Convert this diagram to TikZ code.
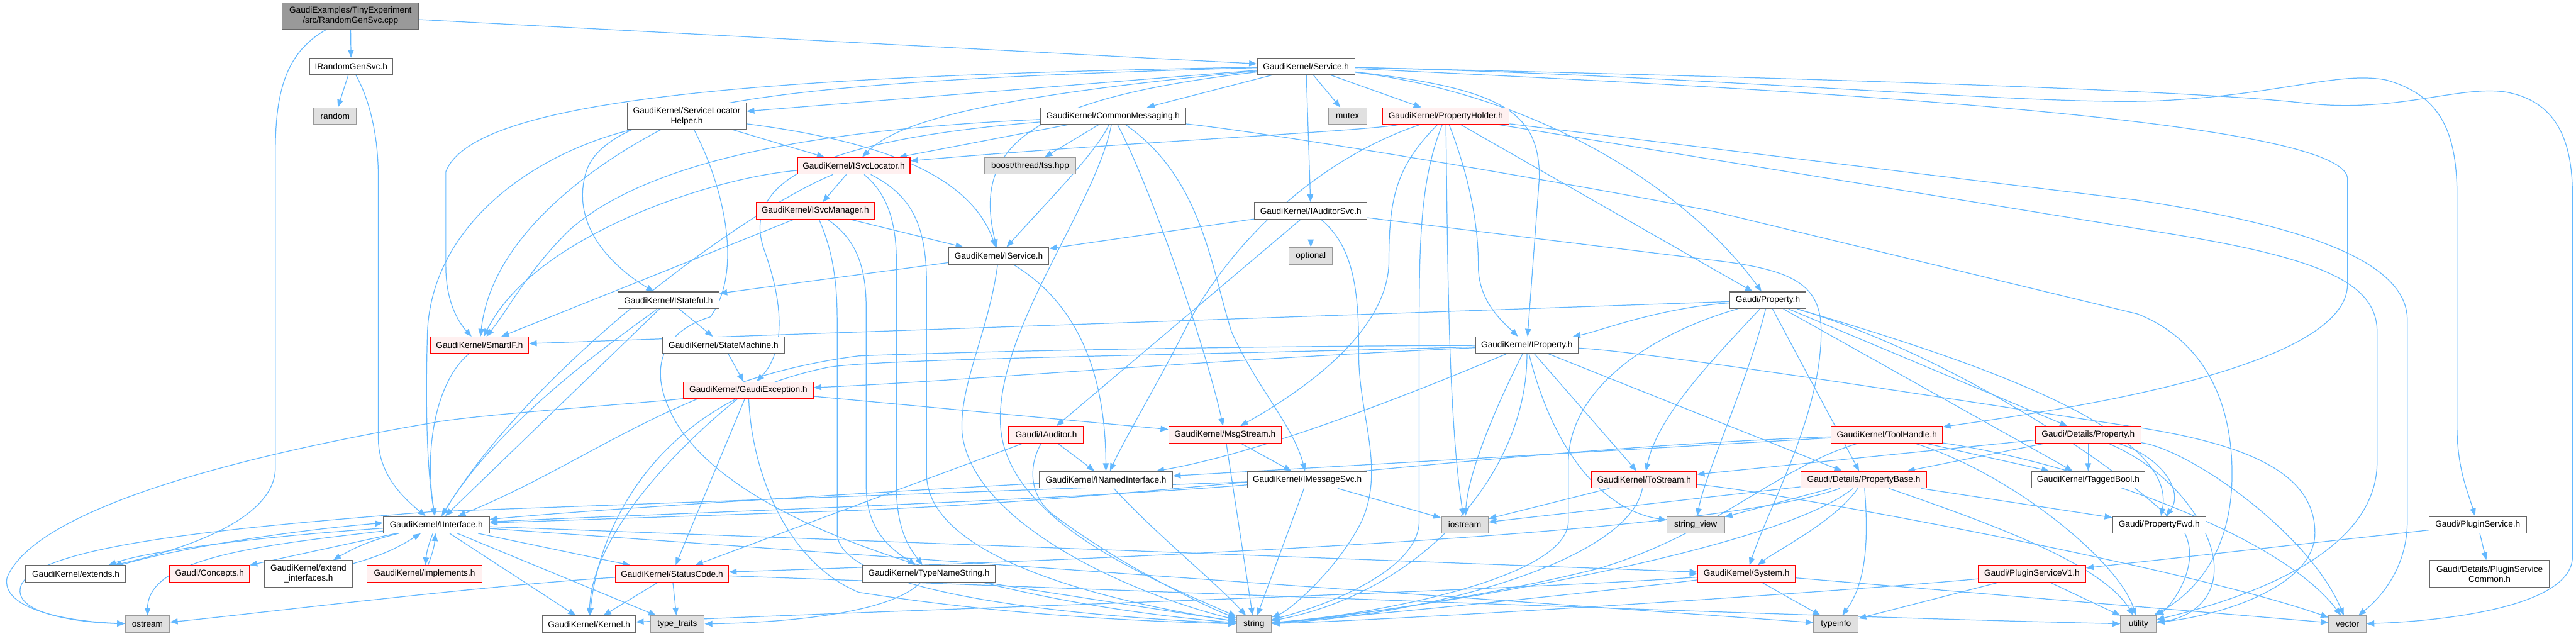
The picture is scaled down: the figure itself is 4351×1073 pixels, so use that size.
\documentclass[tikz,border=0pt]{standalone}
\usepackage{fontspec}
\setmainfont{Liberation Sans}
\usetikzlibrary{arrows.meta,backgrounds}
\definecolor{eblue}{HTML}{63B8FF}
\definecolor{nborder}{HTML}{666666}
\definecolor{rfill}{HTML}{FFF0F0}
\definecolor{sfill}{HTML}{E0E0E0}
\definecolor{sborder}{HTML}{999999}
\definecolor{rootfill}{HTML}{999999}
\tikzset{
 box/.style={rectangle, minimum height=28pt, inner sep=0pt, line width=1.4pt, font=\fontsize{14.5}{17}\selectfont, align=center},
 wbox/.style={box, fill=white, draw=nborder},
 rbox/.style={box, fill=rfill, draw=red},
 gbox/.style={box, fill=sfill, draw=sborder},
 rootbox/.style={box, fill=rootfill, draw=nborder},
 e/.style={draw=eblue, line width=1.3pt, -{Triangle[length=13pt,width=10pt]}},
}
\begin{document}
\begin{tikzpicture}[x=1pt,y=-1pt]
\useasboundingbox (0,0) rectangle (4351,1073);
% nodes
\node[rootbox, minimum width=231pt, minimum height=45pt] (root) at (592,27) {GaudiExamples/TinyExperiment\\/src/RandomGenSvc.cpp};
\node[wbox, minimum width=141pt] (irand) at (593,112) {IRandomGenSvc.h};
\node[gbox, minimum width=72pt] (random) at (566,196) {random};
\node[wbox, minimum width=165pt] (service) at (2206,112) {GaudiKernel/Service.h};
\node[wbox, minimum width=201pt, minimum height=45pt] (slh) at (1160,196) {GaudiKernel/ServiceLocator\\Helper.h};
\node[wbox, minimum width=245pt] (commsg) at (1880,196) {GaudiKernel/CommonMessaging.h};
\node[gbox, minimum width=65pt] (mutex) at (2276,196) {mutex};
\node[rbox, minimum width=214pt] (propholder) at (2442,196) {GaudiKernel/PropertyHolder.h};
\node[rbox, minimum width=190pt] (isvcloc) at (1442,280) {GaudiKernel/ISvcLocator.h};
\node[gbox, minimum width=154pt] (boost) at (1740,280) {boost/thread/tss.hpp};
\node[rbox, minimum width=199pt] (ismgr) at (1377,356) {GaudiKernel/ISvcManager.h};
\node[wbox, minimum width=190pt] (iauditorsvc) at (2214,356) {GaudiKernel/IAuditorSvc.h};
\node[wbox, minimum width=169pt] (iservice) at (1687,432) {GaudiKernel/IService.h};
\node[gbox, minimum width=74pt] (optional) at (2214,432) {optional};
\node[wbox, minimum width=171pt] (istateful) at (1129,507) {GaudiKernel/IStateful.h};
\node[wbox, minimum width=128pt] (property) at (2986,507) {Gaudi/Property.h};
\node[rbox, minimum width=166pt] (smartif) at (810,583) {GaudiKernel/SmartIF.h};
\node[wbox, minimum width=206pt] (statemachine) at (1222,583) {GaudiKernel/StateMachine.h};
\node[wbox, minimum width=174pt] (iproperty) at (2579,583) {GaudiKernel/IProperty.h};
\node[rbox, minimum width=219pt] (gexc) at (1264,659) {GaudiKernel/GaudiException.h};
\node[rbox, minimum width=126pt] (iauditor) at (1767,734) {Gaudi/IAuditor.h};
\node[rbox, minimum width=190pt] (msgstream) at (2069,734) {GaudiKernel/MsgStream.h};
\node[rbox, minimum width=188pt] (toolhandle) at (3187,734) {GaudiKernel/ToolHandle.h};
\node[rbox, minimum width=179pt] (detprop) at (3527,734) {Gaudi/Details/Property.h};
\node[wbox, minimum width=225pt] (inamed) at (1868,810) {GaudiKernel/INamedInterface.h};
\node[wbox, minimum width=201pt] (imsgsvc) at (2208,810) {GaudiKernel/IMessageSvc.h};
\node[rbox, minimum width=177pt] (tostream) at (2777,810) {GaudiKernel/ToStream.h};
\node[rbox, minimum width=213pt] (propbase) at (3148,810) {Gaudi/Details/PropertyBase.h};
\node[wbox, minimum width=191pt] (taggedbool) at (3527,810) {GaudiKernel/TaggedBool.h};
\node[wbox, minimum width=179pt] (iinterface) at (737,886) {GaudiKernel/IInterface.h};
\node[gbox, minimum width=79pt] (iostream) at (2474,886) {iostream};
\node[gbox, minimum width=97pt] (stringview) at (2864,886) {string\_view};
\node[wbox, minimum width=157pt] (propfwd) at (3647,886) {Gaudi/PropertyFwd.h};
\node[wbox, minimum width=164pt] (pluginsvc) at (4185,886) {Gaudi/PluginService.h};
\node[wbox, minimum width=169pt] (extends) at (128,969) {GaudiKernel/extends.h};
\node[rbox, minimum width=135pt] (concepts) at (354,969) {Gaudi/Concepts.h};
\node[wbox, minimum width=149pt, minimum height=45pt] (extifs) at (521,969) {GaudiKernel/extend\\\_interfaces.h};
\node[rbox, minimum width=194pt] (implements) at (717,969) {GaudiKernel/implements.h};
\node[rbox, minimum width=191pt] (statuscode) at (1135,969) {GaudiKernel/StatusCode.h};
\node[wbox, minimum width=224pt] (typename) at (1569,969) {GaudiKernel/TypeNameString.h};
\node[rbox, minimum width=165pt] (system) at (2950,969) {GaudiKernel/System.h};
\node[rbox, minimum width=181pt] (pv1) at (3432,969) {Gaudi/PluginServiceV1.h};
\node[wbox, minimum width=202pt, minimum height=45pt] (pscommon) at (4205,969) {Gaudi/Details/PluginService\\Common.h};
\node[gbox, minimum width=75pt] (ostream) at (249,1054) {ostream};
\node[wbox, minimum width=157pt] (kernel) at (995,1054) {GaudiKernel/Kernel.h};
\node[gbox, minimum width=91pt] (typetraits) at (1144,1054) {type\_traits};
\node[gbox, minimum width=59pt] (string) at (2118,1054) {string};
\node[gbox, minimum width=75pt] (typeinfo) at (3101,1054) {typeinfo};
\node[gbox, minimum width=60pt] (utility) at (3612,1054) {utility};
\node[gbox, minimum width=63pt] (vector) at (3965,1054) {vector};

\begin{pgfonlayer}{background}
% root
\draw[e] (root) -- (irand);
\draw[e] (root) -- (service);
\draw[e] (root) .. controls (480,90) and (465,160) .. (465,260) -- (465,790) .. controls (465,880) and (300,930) .. (extends);
% IRandomGenSvc
\draw[e] (irand) -- (random);
\draw[e] (irand) .. controls (625,170) and (639,230) .. (639,300) -- (639,740) .. controls (639,800) and (680,840) .. (iinterface);
% Service
\draw[e] (service) -- (commsg);
\draw[e] (service) -- (mutex);
\draw[e] (service) -- (propholder);
\draw[e] (service) -- (iauditorsvc);
\draw[e] (service) -- (slh);
\draw[e] (service) .. controls (1700,160) and (1520,200) .. (isvcloc);
\draw[e] (service) .. controls (1750,165) and (1640,240) .. (iservice);
\draw[e] (service) .. controls (1400,135) and (1030,165) .. (990,290) .. controls (960,390) and (1050,460) .. (istateful);
\draw[e] (service) .. controls (1300,128) and (800,165) .. (753,290) -- (753,450) .. controls (753,510) and (775,545) .. (smartif);
\draw[e] (service) .. controls (2540,150) and (2600,190) .. (2600,300) -- (iproperty);
\draw[e] (service) .. controls (2600,160) and (2850,320) .. (property);
\draw[e] (service) .. controls (2900,145) and (3950,195) .. (3965,300) -- (3965,480) .. controls (3965,620) and (3500,690) .. (toolhandle);
\draw[e] (service) .. controls (2900,128) and (3450,180) .. (3650,170) .. controls (3850,160) and (3950,120) .. (4030,135) .. controls (4120,160) and (4150,220) .. (4150,330) -- (4150,720) .. controls (4150,790) and (4168,830) .. (pluginsvc);
\draw[e] (service) .. controls (2900,128) and (3700,150) .. (3900,175) .. controls (4050,190) and (4150,145) .. (4230,155) .. controls (4320,170) and (4345,240) .. (4345,330) -- (4345,940) .. controls (4345,1030) and (4100,1050) .. (vector);
% CommonMessaging
\draw[e] (commsg) .. controls (1400,218) and (1100,265) .. (960,390) .. controls (890,460) and (860,520) .. (smartif);
\draw[e] (commsg) .. controls (1400,235) and (1250,300) .. (1290,420) .. controls (1330,530) and (1320,600) .. (gexc);
\draw[e] (commsg) -- (isvcloc);
\draw[e] (commsg) -- (boost);
\draw[e] (commsg) .. controls (1850,260) and (1760,350) .. (iservice);
\draw[e] (commsg) .. controls (1850,350) and (1680,560) .. (1690,720) .. controls (1700,880) and (1950,980) .. (string);
\draw[e] (commsg) .. controls (1950,330) and (2040,600) .. (msgstream);
\draw[e] (commsg) .. controls (2030,300) and (2045,450) .. (2080,560) .. controls (2120,650) and (2185,720) .. (imsgsvc);
\draw[e] (commsg) .. controls (2150,225) and (2600,300) .. (2890,356) -- (3610,530) .. controls (3700,565) and (3770,650) .. (3770,800) .. controls (3770,950) and (3690,1010) .. (utility);
% PropertyHolder
\draw[e] (propholder) .. controls (2300,222) and (1900,240) .. (isvcloc);
\draw[e] (propholder) .. controls (2250,260) and (2100,380) .. (2010,540) .. controls (1960,640) and (1900,740) .. (inamed);
\draw[e] (propholder) .. controls (2360,280) and (2346,330) .. (2346,440) .. controls (2346,560) and (2200,660) .. (msgstream);
\draw[e] (propholder) .. controls (2400,300) and (2397,400) .. (2397,560) -- (2397,880) .. controls (2397,960) and (2250,1020) .. (string);
\draw[e] (propholder) .. controls (2445,400) and (2445,700) .. (iostream);
\draw[e] (propholder) .. controls (2490,320) and (2497,400) .. (2497,450) .. controls (2497,510) and (2540,545) .. (iproperty);
\draw[e] (propholder) -- (property);
\draw[e] (propholder) -- (3610,386) .. controls (3900,430) and (4015,470) .. (4015,560) -- (4015,780) .. controls (4015,950) and (3750,1020) .. (utility);
\draw[e] (propholder) -- (3610,338) .. controls (3850,375) and (4066,430) .. (4066,540) -- (4066,880) .. controls (4066,960) and (4020,1010) .. (vector);
% IAuditorSvc
\draw[e] (iauditorsvc) -- (optional);
\draw[e] (iauditorsvc) -- (iauditor);
\draw[e] (iauditorsvc) -- (iservice);
\draw[e] (iauditorsvc) .. controls (2290,420) and (2295,500) .. (2295,600) .. controls (2295,700) and (2340,790) .. (2300,880) .. controls (2260,960) and (2180,1030) .. (string);
\draw[e] (iauditorsvc) -- (2890,439) .. controls (3030,455) and (3076,480) .. (3076,560) .. controls (3076,700) and (2990,850) .. (system);
% ServiceLocatorHelper
\draw[e] (slh) -- (isvcloc);
\draw[e] (slh) .. controls (1000,280) and (830,400) .. (smartif);
\draw[e] (slh) .. controls (900,260) and (730,380) .. (722,560) .. controls (718,700) and (722,800) .. (iinterface);
\draw[e] (slh) .. controls (1215,300) and (1260,450) .. (1200,535) .. controls (1120,560) and (1090,620) .. (1140,710) .. controls (1250,900) and (1700,1020) .. (string);
\draw[e] (slh) .. controls (1500,240) and (1640,300) .. (iservice);
% ISvcLocator
\draw[e] (isvcloc) -- (ismgr);
\draw[e] (isvcloc) .. controls (1200,300) and (900,400) .. (smartif);
\draw[e] (isvcloc) .. controls (1250,360) and (900,620) .. (iinterface);
\draw[e] (isvcloc) .. controls (1490,320) and (1514,360) .. (1514,440) -- (1514,820) .. controls (1514,900) and (1540,930) .. (typename);
\draw[e] (isvcloc) .. controls (1540,330) and (1565,380) .. (1565,480) -- (1565,800) .. controls (1565,950) and (1900,1020) .. (string);
% ISvcManager
\draw[e] (ismgr) -- (iservice);
\draw[e] (ismgr) -- (smartif);
\draw[e] (ismgr) .. controls (1440,400) and (1463,440) .. (1463,520) -- (1463,820) .. controls (1463,900) and (1510,930) .. (typename);
\draw[e] (ismgr) .. controls (1405,420) and (1414,470) .. (1414,540) -- (1414,900) .. controls (1414,1000) and (1800,1040) .. (string);
% IService
\draw[e] (iservice) -- (istateful);
\draw[e] (iservice) .. controls (1800,500) and (1867,600) .. (inamed);
\draw[e] (iservice) .. controls (1670,560) and (1620,650) .. (1625,730) .. controls (1640,880) and (1900,1000) .. (string);
% IStateful
\draw[e] (istateful) -- (statemachine);
\draw[e] (istateful) -- (iinterface);
\draw[e] (istateful) .. controls (1060,560) and (850,700) .. (iinterface);
\draw[e] (statemachine) -- (gexc);
% GaudiException
\draw[e] (gexc) -- (statuscode);
\draw[e] (gexc) .. controls (1150,750) and (1000,900) .. (kernel);
\draw[e] (gexc) .. controls (1270,800) and (1330,950) .. (1450,1000) .. controls (1700,1040) and (1950,1050) .. (string);
\draw[e] (gexc) -- (msgstream);
\draw[e] (gexc) .. controls (1100,680) and (800,700) .. (730,714) .. controls (400,770) and (60,860) .. (12,975) .. controls (0,1030) and (120,1050) .. (ostream);
% StatusCode
\draw[e] (statuscode) -- (kernel);
\draw[e] (statuscode) -- (typetraits);
\draw[e] (statuscode) .. controls (800,990) and (400,1040) .. (ostream);
\draw[e] (statuscode) .. controls (2000,1000) and (3000,1040) .. (utility);
% IInterface
\draw[e] ([yshift=-6pt]iinterface.west) .. controls (450,905) and (250,930) .. ([xshift=55pt]extends.north);
\draw[e] ([xshift=75pt]extends.north) .. controls (300,925) and (500,895) .. ([yshift=3pt]iinterface.west);
\draw[e] (iinterface) -- (concepts);
\draw[e] (iinterface) to[bend right=8] (extifs);
\draw[e] (extifs) to[bend right=8] (iinterface);
\draw[e] (iinterface) to[bend right=8] (implements);
\draw[e] (implements) to[bend right=8] (iinterface);
\draw[e] (iinterface) .. controls (450,920) and (250,940) .. (ostream);
\draw[e] (iinterface) -- (statuscode);
\draw[e] (iinterface) -- (kernel);
\draw[e] (iinterface) -- (typetraits);
\draw[e] (iinterface) -- (system);
\draw[e] (iinterface) -- (typeinfo);
% SmartIF
\draw[e] (smartif) .. controls (740,640) and (715,750) .. (iinterface);
% MsgStream
\draw[e] (msgstream) -- (imsgsvc);
\draw[e] (msgstream) -- (string);
% INamedInterface
\draw[e] (inamed) .. controls (1500,830) and (1000,860) .. (iinterface);
\draw[e] (inamed) .. controls (1950,900) and (2050,980) .. (string);
% IMessageSvc
\draw[e] (imsgsvc) .. controls (1800,845) and (1000,872) .. (iinterface);
\draw[e] (imsgsvc) -- (iostream);
\draw[e] (imsgsvc) -- (string);
\draw[e] (imsgsvc) -- (730,864) .. controls (400,890) and (60,920) .. (35,990) .. controls (20,1040) and (150,1052) .. (ostream);
% IAuditor
\draw[e] (iauditor) -- (inamed);
\draw[e] (iauditor) -- (statuscode);
\draw[e] (iauditor) .. controls (1735,790) and (1740,840) .. (1780,870) .. controls (1900,960) and (2050,1030) .. (string);
% TypeNameString
\draw[e] (typename) -- (string);
\draw[e] (typename) -- (system);
\draw[e] (typename) .. controls (1500,1040) and (1300,1052) .. (typetraits);
% IProperty
\draw[e] (iproperty) .. controls (2000,585) and (1600,595) .. (1450,601) .. controls (1150,640) and (1000,780) .. (iinterface);
\draw[e] (iproperty) .. controls (2000,610) and (1600,645) .. (gexc);
\draw[e] (iproperty) .. controls (2000,600) and (1500,605) .. (1400,620) .. controls (1100,680) and (1010,900) .. (kernel);
\draw[e] (iproperty) .. controls (2300,700) and (2100,770) .. (inamed);
\draw[e] (iproperty) .. controls (2520,700) and (2480,800) .. (iostream);
\draw[e] (iproperty) .. controls (2580,800) and (2400,1000) .. (string);
\draw[e] (iproperty) -- (tostream);
\draw[e] (iproperty) .. controls (2620,750) and (2700,860) .. (stringview);
\draw[e] (iproperty) -- (propbase);
\draw[e] (iproperty) .. controls (2800,595) and (3400,690) .. (3600,720) .. controls (3800,750) and (3910,800) .. (3910,900) .. controls (3910,990) and (3750,1040) .. (utility);
% ToolHandle
\draw[e] (toolhandle) -- (inamed);
\draw[e] (toolhandle) .. controls (2500,760) and (2000,840) .. (1440,862) -- (iinterface);
\draw[e] (toolhandle) -- (taggedbool);
\draw[e] (toolhandle) .. controls (3400,800) and (3580,950) .. (utility);
\draw[e] (toolhandle) .. controls (3500,780) and (3850,900) .. (vector);
\draw[e] (toolhandle) .. controls (3000,790) and (2900,900) .. (2700,960) .. controls (2500,1010) and (2250,1045) .. (string);
% Details/Property
\draw[e] (detprop) -- (taggedbool);
\draw[e] (detprop) -- (propbase);
\draw[e] (detprop) -- (tostream);
\draw[e] (detprop) .. controls (3650,770) and (3690,830) .. (propfwd);
\draw[e] (detprop) .. controls (3680,800) and (3740,900) .. (3740,960) .. controls (3740,1020) and (3690,1045) .. (utility);
\draw[e] (detprop) .. controls (3700,760) and (3900,900) .. (vector);
% PropertyBase
\draw[e] (propbase) .. controls (3100,880) and (3000,930) .. (system);
\draw[e] (propbase) -- (stringview);
\draw[e] (propbase) .. controls (3000,930) and (2400,1030) .. (string);
\draw[e] (propbase) -- (iostream);
\draw[e] (propbase) .. controls (2900,900) and (2000,940) .. (statuscode);
\draw[e] (propbase) .. controls (3160,950) and (3140,1000) .. (typeinfo);
\draw[e] (propbase) -- (propfwd);
\draw[e] (propbase) .. controls (3350,880) and (3550,950) .. (utility);
% Gaudi/Property
\draw[e] (property) .. controls (2800,520) and (2700,560) .. (iproperty);
\draw[e] (property) -- (smartif);
\draw[e] (property) .. controls (2800,560) and (2650,650) .. (2649,780) -- (2649,880) .. controls (2649,980) and (2300,1040) .. (string);
\draw[e] (property) .. controls (2900,600) and (2800,700) .. (tostream);
\draw[e] (property) -- (propbase);
\draw[e] (property) -- (detprop);
\draw[e] (property) -- (taggedbool);
\draw[e] (property) .. controls (3300,600) and (3680,720) .. (propfwd);
\draw[e] (property) .. controls (2950,650) and (2880,800) .. (stringview);
\draw[e] (property) .. controls (3300,600) and (3600,800) .. (3690,900) .. controls (3720,960) and (3660,1030) .. (utility);
% ToStream
\draw[e] (tostream) -- (iostream);
\draw[e] (tostream) .. controls (2750,950) and (2400,1040) .. (string);
\draw[e] (tostream) .. controls (3000,830) and (3700,960) .. (vector);
% System
\draw[e] (system) -- (typeinfo);
\draw[e] (system) .. controls (2500,1000) and (1500,1030) .. (kernel);
\draw[e] (system) .. controls (2700,1000) and (2300,1040) .. (string);
\draw[e] (system) -- (vector);
% Plugin
\draw[e] (pluginsvc) -- (pv1);
\draw[e] (pluginsvc) -- (pscommon);
\draw[e] (pv1) -- (typeinfo);
\draw[e] (pv1) -- (utility);
\draw[e] (pv1) .. controls (3100,1000) and (2400,1045) .. (string);
\end{pgfonlayer}
\end{tikzpicture}
\end{document}
